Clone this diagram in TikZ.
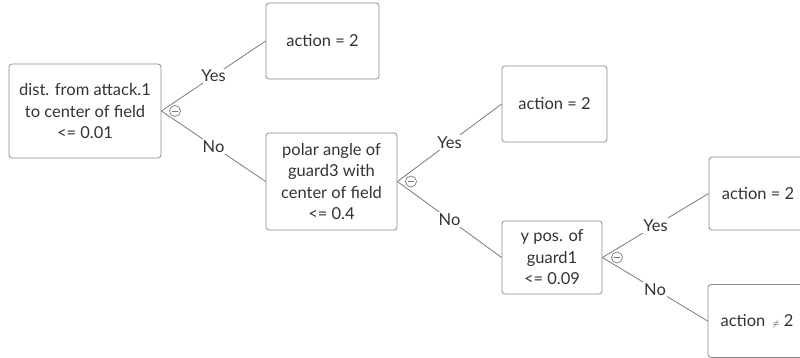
\documentclass[tikz,border=0pt]{standalone}
\usepackage{fontspec}
\setmainfont{Lato}
\usetikzlibrary{positioning}
\definecolor{boxgray}{HTML}{8C8C8C}
\definecolor{linegray}{HTML}{7A7A7A}
\definecolor{textgray}{HTML}{333333}
\tikzset{
x=1pt, y=-1pt, % pixel units, origin at the top left
every node/.style={font=\fontsize{16.5}{21.5}\selectfont, text=textgray},
box/.style={draw=boxgray, rounded corners=3pt, align=center, inner sep=0pt, line width=0.8pt}, % the test and leaf boxes
branch/.style={draw=linegray, line width=0.8pt}, % lines from a test to its children
answer/.style={fill=white, inner sep=1.5pt}, % Yes / No on a line
toggle/.style={circle, draw=linegray, fill=white, minimum size=11pt, inner sep=0pt, line width=0.7pt,
  path picture={\draw[linegray, line width=0.7pt] ([xshift=-2.6pt]path picture bounding box.center) -- ([xshift=2.6pt]path picture bounding box.center);}},
}

\begin{document}
\begin{tikzpicture}
        \clip (0,0) rectangle (800,358);
        \node[box, minimum width=152pt, minimum height=94pt] (dist) at (85,111) {dist. from attack.1\\to center of field\\<= 0.01};
        \node[box, minimum width=113pt, minimum height=76pt] (act1) at (322.5,41) {action = 2};
        \node[box, minimum width=131pt, minimum height=97pt] (polar) at (331.5,181.5) {polar angle of\\guard3 with\\center of field\\<= 0.4};
        \node[box, minimum width=105pt, minimum height=76pt] (act2) at (554.5,104) {action = 2};
        \node[box, minimum width=100pt, minimum height=73pt] (ypos) at (552,257.5) {y pos. of\\guard1\\<= 0.09};
        \node[box, minimum width=98pt, minimum height=73pt] (act3) at (758,193.5) {action = 2};
        \node[box, minimum width=98pt, minimum height=73pt] (act4) at (757,321) {action \,{\small$\neq$} 2};

        \draw (dist.east) edge[branch] node[answer]{Yes} (act1.west)
        (dist.east) edge[branch] node[answer]{No} (polar.west)
        (polar.east) edge[branch] node[answer]{Yes} (act2.west)
        (polar.east) edge[branch] node[answer]{No} (ypos.west)
        (ypos.east) edge[branch] node[answer]{Yes} (act3.west)
        (ypos.east) edge[branch] node[answer]{No} (act4.west);

        \node[toggle] (t1) at (175,111) {};
        \node[toggle] (t2) at (411,181.5) {};
        \node[toggle] (t3) at (617,257.5) {};
      \end{tikzpicture}
\end{document}
